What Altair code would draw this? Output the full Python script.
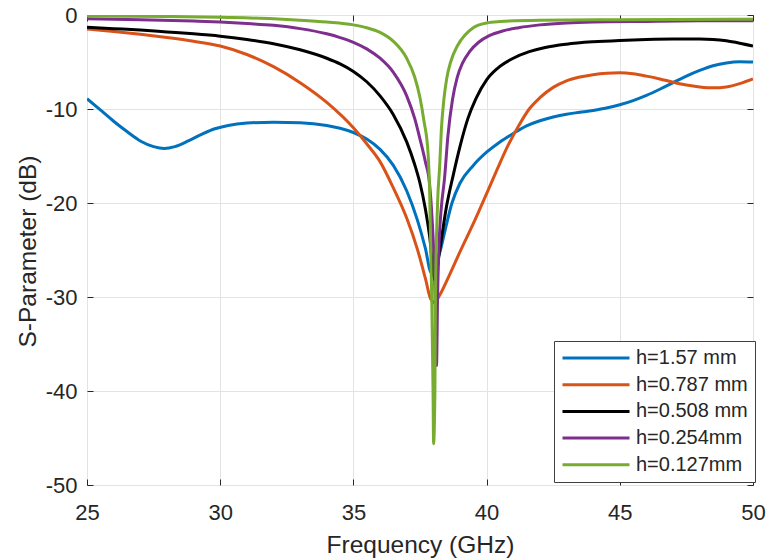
import altair as alt
import pandas as pd

# Reflection coefficient |S11| versus frequency for five substrate heights
freq_157 = [25.0, 25.5, 26.0, 26.5, 27.0, 27.5, 27.9, 28.3, 28.8, 29.3, 29.8, 30.3, 31.0, 32.0,
            33.0, 34.0, 34.5, 35.0, 35.5, 36.0, 36.5, 37.0, 37.4, 37.7, 37.92, 38.05, 38.24, 38.45,
            38.7, 39.0, 39.5, 40.0, 40.5, 41.0, 41.5, 42.0, 42.5, 43.0, 43.5, 44.0, 44.5, 45.0,
            45.5, 46.0, 46.5, 47.0, 47.5, 48.0, 48.5, 49.0, 49.5, 50.0]
s11_157 = [-8.9, -10.1, -11.3, -12.4, -13.4, -14.0, -14.2, -14.0, -13.4, -12.7, -12.1, -11.75, -11.5, -11.4,
           -11.45, -11.75, -12.05, -12.5, -13.2, -14.3, -16.0, -18.7, -21.8, -24.8, -27.4, -26.8, -25.3, -22.8,
           -20.0, -17.9, -16.0, -14.6, -13.5, -12.6, -11.8, -11.25, -10.85, -10.55, -10.35, -10.15, -9.9, -9.55,
           -9.1, -8.55, -7.9, -7.2, -6.5, -5.9, -5.4, -5.1, -4.97, -5.0]

freq_0787 = [25.0, 26.0, 27.0, 28.0, 29.0, 30.0, 31.0, 32.0, 33.0, 34.0, 35.0, 35.5, 36.0, 36.5,
             37.0, 37.4, 37.7, 37.9, 38.05, 38.2, 38.6, 39.0, 39.5, 40.0, 40.4, 40.8, 41.2, 41.6,
             42.0, 42.5, 43.0, 43.5, 44.0, 44.5, 45.0, 45.5, 46.0, 46.5, 47.0, 47.5, 48.0, 48.5,
             49.0, 49.5, 50.0]
s11_0787 = [-1.5, -1.75, -2.05, -2.4, -2.8, -3.3, -4.2, -5.5, -7.2, -9.3, -12.0, -13.7, -15.6, -18.4,
            -21.6, -24.9, -28.0, -30.2, -30.6, -30.0, -27.7, -25.2, -22.2, -19.0, -16.4, -13.9, -11.8, -10.0,
            -8.8, -7.7, -7.0, -6.6, -6.35, -6.2, -6.15, -6.25, -6.5, -6.8, -7.15, -7.45, -7.65, -7.75,
            -7.65, -7.3, -6.8]

freq_0508 = [25.0, 26.0, 27.0, 28.0, 29.0, 30.0, 31.0, 32.0, 33.0, 34.0, 34.5, 35.0, 35.5, 36.0,
             36.5, 37.0, 37.3, 37.5, 37.7, 37.86, 38.05, 38.24, 38.5, 38.75, 39.0, 39.3, 39.6, 40.0,
             40.4, 41.0, 41.6, 42.2, 43.0, 44.0, 45.0, 46.0, 47.0, 48.0, 48.5, 49.0, 49.5, 50.0]
s11_0508 = [-1.3, -1.45, -1.6, -1.8, -2.0, -2.25, -2.6, -3.05, -3.7, -4.6, -5.2, -6.0, -7.1, -8.6,
            -10.6, -13.5, -15.9, -17.9, -20.6, -23.5, -28.2, -25.0, -20.3, -17.0, -14.0, -11.0, -8.9, -6.9,
            -5.7, -4.6, -3.9, -3.45, -3.1, -2.85, -2.7, -2.6, -2.55, -2.55, -2.6, -2.75, -3.0, -3.3]

freq_0254 = [25.0, 27.0, 29.0, 30.0, 31.0, 32.0, 33.0, 34.0, 34.5, 35.0, 35.5, 36.0, 36.5, 37.0,
             37.3, 37.5, 37.7, 37.86, 37.95, 38.05, 38.12, 38.16, 38.22, 38.3, 38.42, 38.55, 38.72, 38.9,
             39.1, 39.36, 39.7, 40.1, 40.6, 41.2, 42.0, 43.0, 44.0, 46.0, 48.0, 50.0]
s11_0254 = [-0.4, -0.5, -0.65, -0.75, -0.9, -1.1, -1.45, -2.0, -2.4, -2.9, -3.6, -4.6, -6.1, -8.6,
            -11.0, -13.2, -15.6, -18.0, -21.5, -28.0, -37.3, -30.0, -24.0, -20.5, -17.4, -12.8, -9.0, -6.6,
            -5.1, -3.9, -2.9, -2.2, -1.7, -1.35, -1.05, -0.85, -0.75, -0.68, -0.62, -0.6]

freq_0127 = [25.0, 28.0, 30.0, 32.0, 33.0, 34.0, 35.0, 35.5, 36.0, 36.5, 37.0, 37.3, 37.5, 37.65,
             37.8, 37.86, 37.94, 37.99, 38.01, 38.06, 38.08, 38.16, 38.24, 38.3, 38.4, 38.5, 38.65, 38.9,
             39.2, 39.5, 40.0, 40.5, 42.0, 45.0, 50.0]
s11_0127 = [-0.1, -0.15, -0.25, -0.4, -0.55, -0.75, -1.05, -1.35, -1.85, -2.8, -4.6, -6.6, -8.8, -11.3,
            -14.6, -18.5, -30.0, -40.0, -45.6, -40.0, -30.0, -20.0, -16.0, -12.3, -8.9, -6.8, -5.0, -3.3,
            -2.1, -1.35, -0.85, -0.7, -0.55, -0.5, -0.45]

series_names = ["h=1.57 mm", "h=0.787 mm", "h=0.508 mm", "h=0.254mm", "h=0.127mm"]
series_colors = ["#0072BD", "#D95319", "#000000", "#7E2F8E", "#77AC30"]
series_data = [(freq_157, s11_157), (freq_0787, s11_0787), (freq_0508, s11_0508),
               (freq_0254, s11_0254), (freq_0127, s11_0127)]

x_ticks = [25, 30, 35, 40, 45, 50]
y_ticks = [-50, -40, -30, -20, -10, 0]

rows = []
for name, (fs, vs) in zip(series_names, series_data):
    for i, (f, v) in enumerate(zip(fs, vs)):
        rows.append({"series": name, "order": i, "freq": f, "s11": v})
df = pd.DataFrame(rows)

FONT = "Liberation Sans"
INK = "#262626"
GRID = "#e3e3e3"
PLAIN_LABEL = "'' + datum.value"  # plain hyphen-minus in tick labels

x_scale = alt.Scale(domain=[25, 50], nice=False, zero=False)
y_scale = alt.Scale(domain=[-50, 0], nice=False, zero=False)

curves = alt.Chart(df).mark_line(strokeWidth=3, interpolate="monotone", clip=True).encode(
    x=alt.X("freq:Q", scale=x_scale,
            axis=alt.Axis(orient="bottom", values=x_ticks, title="Frequency (GHz)",
                          offset=-6, domain=False, tickSize=6, tickColor=INK, tickWidth=1,
                          labelExpr=PLAIN_LABEL,
                          labelFont=FONT, labelFontSize=22, labelColor=INK, labelPadding=17,
                          labelFlush=False, grid=True, gridColor=GRID, gridWidth=1,
                          titleFont=FONT, titleFontSize=24.5, titleFontWeight="normal",
                          titleColor=INK, titleX=333, titleY=73, titleAlign="center",
                          titleBaseline="alphabetic")),
    y=alt.Y("s11:Q", scale=y_scale,
            axis=alt.Axis(orient="left", values=y_ticks, title="S-Parameter (dB)",
                          offset=-6, domain=False, tickSize=6, tickColor=INK, tickWidth=1,
                          labelExpr=PLAIN_LABEL,
                          labelFont=FONT, labelFontSize=22, labelColor=INK, labelPadding=10,
                          labelFlush=False, grid=True, gridColor=GRID, gridWidth=1,
                          titleFont=FONT, titleFontSize=24.5, titleFontWeight="normal",
                          titleColor=INK, titleX=-58, titleY=236, titleAlign="center",
                          titleBaseline="alphabetic", titleAngle=270)),
    color=alt.Color("series:N",
                    scale=alt.Scale(domain=series_names, range=series_colors),
                    sort=series_names,
                    legend=alt.Legend(orient="none", legendX=467, legendY=326, title=None,
                                      symbolType="stroke", symbolSize=4489, symbolStrokeWidth=3,
                                      clipHeight=20, rowPadding=6.7, padding=7, labelOffset=5,
                                      labelFont=FONT, labelFontSize=20, labelColor=INK,
                                      labelLimit=300, strokeColor="#404040", fillColor="white",
                                      cornerRadius=0)),
    order="order:Q",
)

# Mirror axes on the top and right carrying only the inward ticks
mirror = alt.Chart(df).mark_line(strokeOpacity=0).encode(
    x=alt.X("freq:Q", scale=x_scale,
            axis=alt.Axis(orient="top", values=x_ticks, title=None, offset=-6, domain=False,
                          labels=False, grid=False, tickSize=6, tickColor=INK, tickWidth=1)),
    y=alt.Y("s11:Q", scale=y_scale,
            axis=alt.Axis(orient="right", values=y_ticks, title=None, offset=-6, domain=False,
                          labels=False, grid=False, tickSize=6, tickColor=INK, tickWidth=1)),
    detail="series:N",
    order="order:Q",
)

chart = alt.layer(curves, mirror).resolve_axis(x="independent", y="independent").properties(
    width=666,
    height=470,
    autosize=alt.AutoSizeParams(type="none"),
    padding={"left": 87, "top": 15, "right": 16, "bottom": 75},
    background="white",
).configure_view(stroke=INK, strokeWidth=1)

chart.save("out.html", embed_options={"renderer": "svg", "actions": False})
